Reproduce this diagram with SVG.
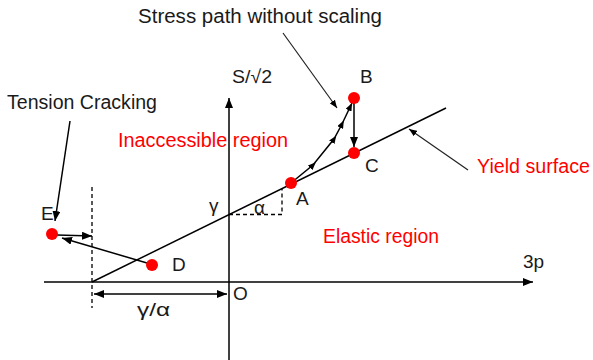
<svg xmlns="http://www.w3.org/2000/svg" width="593" height="360" viewBox="0 0 593 360">
<defs>
<marker id="ah" viewBox="0 0 10 8" refX="10" refY="4" markerWidth="10" markerHeight="8" markerUnits="userSpaceOnUse" orient="auto-start-reverse">
<path d="M0,0 L10,4 L0,8 Z" fill="#000"/>
</marker>
<marker id="ahs" viewBox="0 0 10 8" refX="10" refY="4" markerWidth="8" markerHeight="6.4" markerUnits="userSpaceOnUse" orient="auto">
<path d="M0,0 L10,4 L0,8 Z" fill="#000"/>
</marker>
<marker id="amid" viewBox="0 0 10 8" refX="5" refY="4" markerWidth="8" markerHeight="6.4" markerUnits="userSpaceOnUse" orient="auto">
<path d="M0,0 L10,4 L0,8 Z" fill="#000"/>
</marker>
</defs>
<style>
text{font-family:"Liberation Sans",Arial,sans-serif;font-size:19px;fill:#1a1a1a}
.big{font-size:20px}
.red{fill:#ff0000}
.ln{stroke:#000;stroke-width:1.5;fill:none}
.thin{stroke:#222;stroke-width:1.2;fill:none}
.dash{stroke:#000;stroke-width:1.3;stroke-dasharray:4,3;fill:none}
.pt{fill:#ff0000}
</style>
<g id="connectors">
<line class="ln" x1="44" y1="282" x2="533" y2="282" marker-end="url(#ah)"/>
<line class="ln" x1="229" y1="360" x2="229" y2="98" marker-end="url(#ah)"/>
<line class="ln" stroke-width="1.8" x1="92" y1="282" x2="446" y2="108"/>
<line class="dash" x1="92" y1="187" x2="92" y2="308"/>
<polyline class="dash" points="229,214.5 282,214.5 282,189"/>
<line class="ln" x1="94" y1="294" x2="227" y2="294" marker-start="url(#ah)" marker-end="url(#ah)"/>
<line class="ln" x1="57" y1="235" x2="92" y2="236" marker-end="url(#ah)"/>
<line class="ln" x1="147" y1="263" x2="62" y2="238" marker-end="url(#ah)"/>
<path class="ln" d="M291,183 L313,165 L334,139 L342,124 L352,103" marker-mid="url(#amid)" marker-end="url(#ahs)"/>
<line class="ln" x1="354" y1="100" x2="354" y2="147" marker-end="url(#ah)"/>
<line class="thin" x1="283" y1="33" x2="337" y2="108" marker-end="url(#ahs)"/>
<line class="thin" x1="468" y1="170" x2="409" y2="129" marker-end="url(#ahs)"/>
<line class="ln" x1="70" y1="121" x2="55" y2="221" marker-end="url(#ah)"/>
</g>
<g id="point-A"><circle class="pt" cx="291" cy="183" r="6"/><text x="296" y="205">A</text></g>
<g id="point-B"><circle class="pt" cx="354" cy="98" r="6"/><text x="360" y="83">B</text></g>
<g id="point-C"><circle class="pt" cx="354" cy="153" r="6"/><text x="365" y="172">C</text></g>
<g id="point-D"><circle class="pt" cx="152" cy="265" r="6"/><text x="172" y="271">D</text></g>
<g id="point-E"><circle class="pt" cx="52" cy="234" r="6"/><text x="41" y="220">E</text></g>
<g id="labels">
<text class="big" x="138" y="23" textLength="244" lengthAdjust="spacingAndGlyphs">Stress path without scaling</text>
<text class="big" x="7" y="109" textLength="150" lengthAdjust="spacingAndGlyphs">Tension Cracking</text>
<text x="232" y="83" textLength="40" lengthAdjust="spacingAndGlyphs">S/√2</text>
<text class="red big" x="118" y="147" textLength="170" lengthAdjust="spacingAndGlyphs">Inaccessible region</text>
<text class="red big" x="323" y="243" textLength="116" lengthAdjust="spacingAndGlyphs">Elastic region</text>
<text class="red big" x="477" y="173" textLength="113" lengthAdjust="spacingAndGlyphs">Yield surface</text>
<text x="209" y="212" font-size="21">γ</text>
<text x="254" y="214" font-size="21">α</text>
<text x="233" y="300">O</text>
<text x="137" y="316" font-size="21" textLength="33" lengthAdjust="spacingAndGlyphs">γ/α</text>
<text x="523" y="268">3p</text>
</g>
</svg>
